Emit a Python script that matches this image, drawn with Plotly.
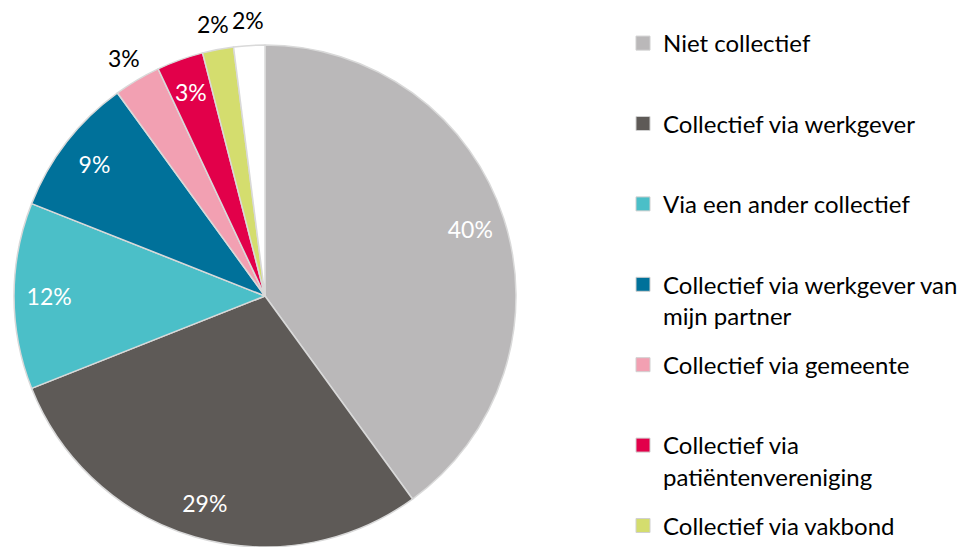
import math
import plotly.graph_objects as go

labels = ["Niet collectief", "Collectief via werkgever", "Via een ander collectief",
          "Collectief via werkgever van mijn partner", "Collectief via gemeente",
          "Collectief via patiëntenvereniging", "Collectief via vakbond", "Anders"]
values = [40, 29, 12, 9, 3, 3, 2, 2]
colors = ["#BAB8B9", "#5E5A57", "#4BBFC8", "#00719A", "#F2A0B2", "#E2004A", "#D4DD6E", "#FFFFFF"]
# where each slice's percentage label sits: ring = inside band near rim,
# narrow = inside a slice too thin for the ring text, outer = outside the pie
label_place = ["ring", "ring", "ring", "ring", "outer", "narrow", "outer", "outer"]
legend_text = ["Niet collectief<br> ", "Collectief via werkgever<br> ", "Via een ander collectief<br> ",
               "Collectief via werkgever van<br>mijn partner", "Collectief via gemeente<br> ",
               "Collectief via<br>patiëntenvereniging", "Collectief via vakbond"]

FONT = "Lato"
W, H = 968, 547
CX, CY, R = 265, 296, 251          # pie centre / radius in px (layout)
dom_x = [(CX - R) / W, (CX + R) / W]
dom_y = [(H - CY - R) / H, (H - CY + R) / H]

fig = go.Figure()
# main pie
fig.add_trace(go.Pie(
    labels=labels, values=values, sort=False, direction="clockwise", rotation=0,
    marker=dict(colors=colors, line=dict(color="#D9D9D9", width=1.5)),
    textinfo="none",
    domain=dict(x=dom_x, y=dom_y),
    showlegend=False, hoverinfo="label+percent",
))
# transparent ring carrying the labels of the big slices near the rim
fig.add_trace(go.Pie(
    labels=labels, values=values, sort=False, direction="clockwise", rotation=0, hole=0.72,
    marker=dict(colors=["rgba(0,0,0,0)"] * len(values), line=dict(width=0)),
    texttemplate="%{value}%",
    textposition=["inside" if p == "ring" else "none" for p in label_place],
    textfont=dict(color="white", size=23, family=FONT),
    insidetextorientation="horizontal",
    domain=dict(x=dom_x, y=dom_y),
    showlegend=False, hoverinfo="skip",
))
# labels of the small slices, placed along each slice bisector
total = sum(values)
cum = 0
for v, p in zip(values, label_place):
    mid = (cum + v / 2) / total * 2 * math.pi
    cum += v
    if p == "ring":
        continue
    rr = R + 26 if p == "outer" else R * 0.865
    px = CX + rr * math.sin(mid)
    py = CY - rr * math.cos(mid)
    fig.add_annotation(x=px / W, y=1 - py / H, xref="paper", yref="paper",
                       xanchor="center", yanchor="middle",
                       text=f"{v}%", showarrow=False,
                       font=dict(size=23, family=FONT,
                                 color="black" if p == "outer" else "white"))

for name, col in zip(legend_text, colors[:7]):
    fig.add_trace(go.Scatter(
        x=[None], y=[None], mode="markers", name=name, legendgroup=name,
        marker=dict(symbol="square", size=14, color=col, line=dict(color="#D0D0D0", width=1)),
    ))

fig.update_layout(
    width=W, height=H, margin=dict(l=0, r=0, t=0, b=0, autoexpand=False),
    paper_bgcolor="white", plot_bgcolor="white",
    xaxis=dict(visible=False), yaxis=dict(visible=False),
    font=dict(family=FONT, color="black"),
    uniformtext=dict(mode="show", minsize=23),
    legend=dict(x=623 / W, xanchor="left", y=1 - 21 / H, yanchor="top",
                font=dict(size=24, family=FONT, color="black"),
                valign="top", tracegroupgap=15, traceorder="grouped",
                maxheight=1000, bgcolor="rgba(0,0,0,0)"),
)
fig.write_html("out.html")
